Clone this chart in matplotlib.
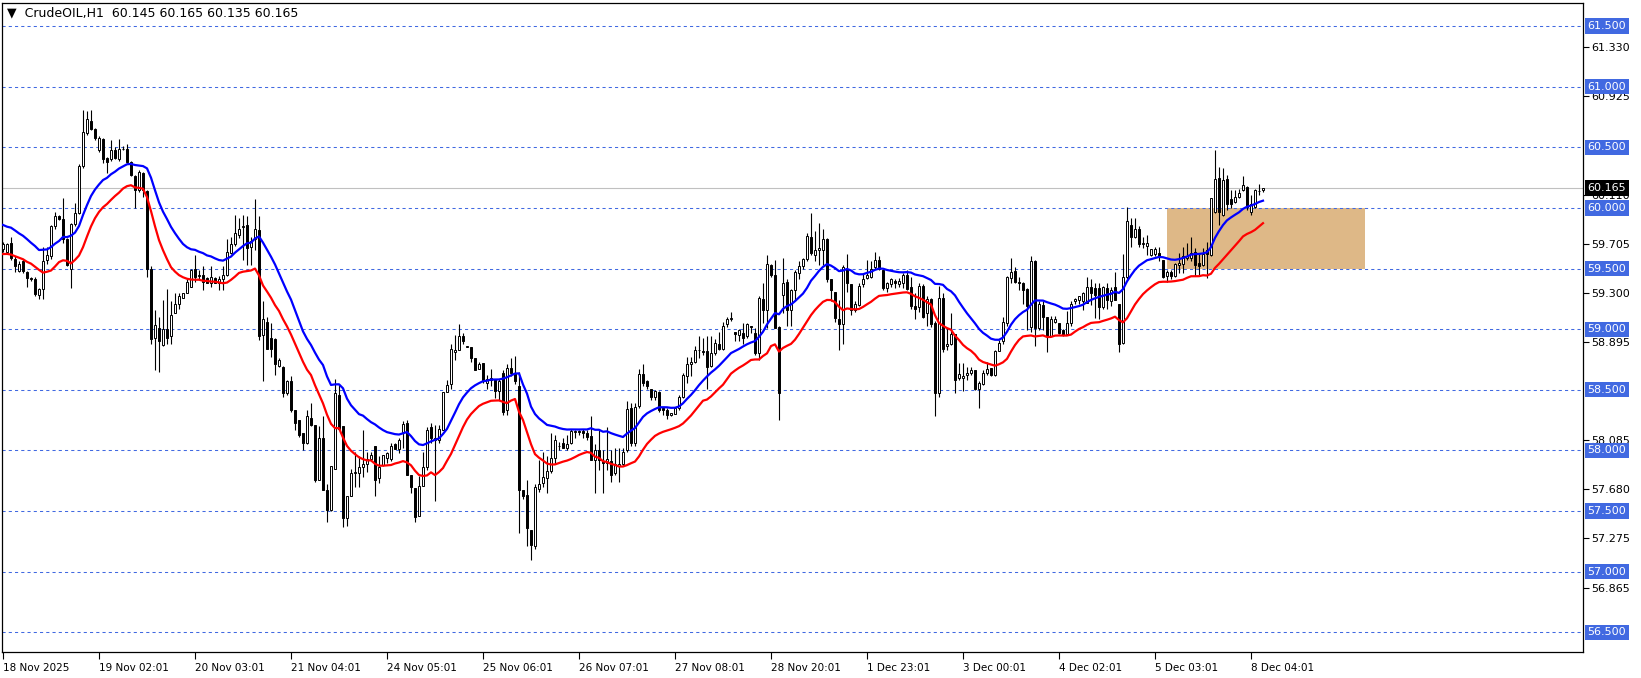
import matplotlib
matplotlib.use("Agg")
import matplotlib.pyplot as plt
from matplotlib.patches import Rectangle

# CrudeOIL H1 candles (bar 0 = 18 Nov 2025)
opens = [
    59.66, 59.64, 59.71, 59.58, 59.48, 59.56, 59.47, 59.42, 59.41, 59.28,
    59.33, 59.57, 59.60, 59.85, 59.93, 59.91, 59.74, 59.50, 59.87, 59.96,
    60.35, 60.62, 60.72, 60.65, 60.48, 60.57, 60.41, 60.40, 60.48, 60.40,
    60.49, 60.49, 60.38, 60.26, 60.15, 60.29, 60.14, 59.50, 58.925, 59.01,
    58.87, 59.00, 58.94, 59.13, 59.21, 59.26, 59.30, 59.35, 59.50, 59.44,
    59.45, 59.42, 59.38, 59.42, 59.38, 59.41, 59.45, 59.63, 59.70, 59.78,
    59.84, 59.86, 59.68, 59.74, 59.82, 58.95, 59.06, 58.93, 58.92, 58.70,
    58.69, 58.47, 58.57, 58.33, 58.25, 58.14, 58.06, 58.27, 58.21, 57.76,
    58.10, 57.67, 57.51, 57.85, 58.46, 58.20, 57.44, 57.62, 57.81, 57.81,
    57.86, 57.89, 57.93, 58.04, 57.77, 57.88, 57.94, 57.93, 58.05, 58.01,
    58.15, 58.23, 57.80, 57.69, 57.46, 57.71, 57.86, 58.19, 58.10, 58.09,
    58.17, 58.48, 58.55, 58.81, 58.83, 58.94, 58.85, 58.85, 58.76, 58.67,
    58.72, 58.56, 58.58, 58.59, 58.49, 58.64, 58.33, 58.68, 58.64, 58.53,
    57.67, 57.63, 57.34, 57.21, 57.68, 57.73, 57.77, 57.83, 57.94, 58.04,
    58.06, 58.02, 58.06, 58.15, 58.16, 58.16, 58.14, 58.12, 57.92, 58.00,
    57.91, 57.90, 57.91, 57.81, 57.87, 57.89, 58.00, 58.35, 58.06, 58.37,
    58.63, 58.57, 58.51, 58.44, 58.48, 58.35, 58.33, 58.29, 58.30, 58.35,
    58.44, 58.61, 58.71, 58.73, 58.83, 58.82, 58.82, 58.70, 58.80, 58.88,
    58.84, 59.04, 59.08, 58.98, 58.95, 58.97, 58.94, 59.03, 58.97, 58.80,
    59.25, 59.16, 59.53, 59.45, 59.02, 59.28, 59.39, 59.16, 59.32, 59.46,
    59.52, 59.58, 59.76, 59.61, 59.65, 59.65, 59.74, 59.41, 59.31, 59.08,
    59.04, 59.50, 59.37, 59.16, 59.20, 59.37, 59.42, 59.43, 59.51, 59.57,
    59.49, 59.34, 59.37, 59.40, 59.37, 59.38, 59.45, 59.35, 59.19, 59.18,
    59.36, 59.13, 59.25, 59.05, 58.47, 59.26, 58.86, 58.88, 58.96, 58.60,
    58.60, 58.62, 58.64, 58.66, 58.51, 58.55, 58.64, 58.68, 58.62, 58.82,
    58.90, 59.05, 59.42, 59.48, 59.39, 59.38, 59.33, 59.02, 59.56, 59.01,
    59.20, 59.10, 58.94, 59.06, 59.05, 58.99, 58.96, 59.05, 59.23, 59.24,
    59.23, 59.22, 59.35, 59.34, 59.34, 59.18, 59.34, 59.23, 59.35, 59.21,
    58.89, 59.43, 59.86, 59.76, 59.83, 59.70, 59.69, 59.61, 59.62, 59.63,
    59.57, 59.44, 59.47, 59.44, 59.53, 59.54, 59.59, 59.59, 59.64, 59.55,
    59.53, 59.65, 59.61, 59.97, 60.25, 59.94, 60.24, 60.07, 60.05, 60.09,
    60.15, 60.17, 59.97, 60.01, 60.14, 60.145,
]
highs = [
    59.72, 59.71, 59.76, 59.60, 59.56, 59.58, 59.48, 59.43, 59.43, 59.34,
    59.68, 59.68, 59.86, 59.97, 59.94, 60.08, 59.75, 59.88, 60.04, 60.36,
    60.81, 60.80, 60.81, 60.66, 60.59, 60.58, 60.42, 60.56, 60.50, 60.57,
    60.51, 60.53, 60.39, 60.27, 60.31, 60.30, 60.15, 59.52, 59.16, 59.10,
    59.24, 59.33, 59.23, 59.30, 59.30, 59.30, 59.42, 59.50, 59.61, 59.49,
    59.52, 59.43, 59.52, 59.43, 59.44, 59.52, 59.74, 59.76, 59.94, 59.92,
    59.94, 59.93, 59.76, 60.07, 59.93, 59.23, 59.10, 59.05, 58.93, 58.76,
    58.70, 58.58, 58.61, 58.33, 58.25, 58.14, 58.33, 58.39, 58.21, 58.20,
    58.28, 57.72, 57.87, 58.59, 58.55, 58.20, 57.62, 57.85, 57.99, 57.95,
    58.17, 57.99, 57.99, 58.04, 57.95, 57.96, 57.99, 58.06, 58.06, 58.10,
    58.24, 58.25, 57.80, 57.69, 57.79, 57.99, 58.19, 58.23, 58.21, 58.21,
    58.48, 58.58, 58.88, 58.95, 59.04, 58.97, 58.86, 58.85, 58.76, 58.73,
    58.72, 58.62, 58.67, 58.59, 58.59, 58.66, 58.71, 58.76, 58.78, 58.65,
    57.67, 57.76, 57.34, 57.72, 57.92, 57.99, 57.95, 58.14, 58.13, 58.07,
    58.10, 58.13, 58.18, 58.17, 58.17, 58.18, 58.17, 58.28, 58.05, 58.17,
    58.00, 58.19, 58.00, 58.02, 58.02, 58.02, 58.41, 58.39, 58.39, 58.67,
    58.71, 58.58, 58.51, 58.50, 58.49, 58.36, 58.35, 58.31, 58.36, 58.46,
    58.64, 58.77, 58.77, 58.86, 58.94, 58.93, 58.94, 58.94, 58.92, 58.98,
    59.06, 59.10, 59.14, 58.98, 59.00, 59.05, 59.05, 59.03, 59.01, 59.27,
    59.38, 59.61, 59.54, 59.57, 59.03, 59.59, 59.41, 59.33, 59.49, 59.56,
    59.59, 59.79, 59.96, 59.81, 59.88, 59.83, 59.75, 59.41, 59.31, 59.24,
    59.53, 59.62, 59.37, 59.23, 59.38, 59.46, 59.57, 59.56, 59.64, 59.60,
    59.49, 59.39, 59.42, 59.41, 59.42, 59.46, 59.49, 59.43, 59.30, 59.38,
    59.37, 59.27, 59.26, 59.07, 59.36, 59.30, 59.01, 59.13, 58.96, 58.72,
    58.72, 58.69, 58.69, 58.66, 58.57, 58.66, 58.73, 58.68, 58.83, 58.91,
    59.10, 59.44, 59.59, 59.51, 59.43, 59.39, 59.34, 59.60, 59.57, 59.23,
    59.23, 59.10, 59.11, 59.11, 59.05, 59.00, 59.15, 59.23, 59.26, 59.27,
    59.31, 59.43, 59.41, 59.38, 59.38, 59.36, 59.38, 59.35, 59.47, 59.21,
    59.62, 60.01, 59.92, 59.92, 59.85, 59.76, 59.78, 59.66, 59.68, 59.68,
    59.57, 59.49, 59.49, 59.55, 59.63, 59.68, 59.71, 59.76, 59.67, 59.63,
    59.67, 59.72, 60.08, 60.48, 60.34, 60.33, 60.27, 60.15, 60.15, 60.16,
    60.26, 60.18, 60.11, 60.16, 60.20, 60.165,
]
lows = [
    59.64, 59.63, 59.57, 59.47, 59.47, 59.46, 59.35, 59.40, 59.27, 59.25,
    59.25, 59.54, 59.58, 59.83, 59.90, 59.71, 59.52, 59.34, 59.85, 59.95,
    60.33, 60.60, 60.64, 60.56, 60.46, 60.37, 60.29, 60.39, 60.40, 60.39,
    60.48, 60.37, 60.26, 60.00, 60.13, 60.09, 59.43, 58.88, 58.66, 58.65,
    58.86, 58.88, 58.88, 59.13, 59.17, 59.26, 59.30, 59.35, 59.39, 59.41,
    59.32, 59.38, 59.35, 59.38, 59.32, 59.32, 59.44, 59.62, 59.69, 59.75,
    59.57, 59.53, 59.53, 59.65, 58.91, 58.57, 58.84, 58.77, 58.62, 58.69,
    58.44, 58.46, 58.32, 58.17, 58.11, 58.00, 58.05, 58.20, 57.74, 57.76,
    57.67, 57.41, 57.50, 57.85, 58.18, 57.37, 57.38, 57.62, 57.70, 57.70,
    57.78, 57.82, 57.92, 57.62, 57.73, 57.87, 57.90, 57.91, 58.01, 57.98,
    58.02, 57.80, 57.65, 57.41, 57.46, 57.71, 57.84, 58.06, 57.58, 58.06,
    58.17, 58.48, 58.51, 58.75, 58.83, 58.88, 58.85, 58.73, 58.66, 58.67,
    58.56, 58.51, 58.53, 58.43, 58.42, 58.29, 58.29, 58.61, 58.55, 57.32,
    57.60, 57.21, 57.10, 57.19, 57.66, 57.70, 57.65, 57.81, 57.89, 58.00,
    58.02, 58.00, 58.05, 58.10, 58.13, 58.10, 58.09, 57.92, 57.65, 57.84,
    57.65, 57.84, 57.74, 57.80, 57.74, 57.87, 57.99, 58.04, 58.04, 58.35,
    58.53, 58.51, 58.42, 58.42, 58.32, 58.29, 58.26, 58.28, 58.30, 58.33,
    58.43, 58.56, 58.61, 58.72, 58.76, 58.79, 58.51, 58.69, 58.79, 58.83,
    58.83, 59.02, 59.07, 58.90, 58.90, 58.88, 58.93, 58.97, 58.79, 58.75,
    59.05, 59.01, 59.43, 59.01, 58.25, 59.13, 59.03, 59.03, 59.24, 59.41,
    59.50, 59.56, 59.61, 59.56, 59.53, 59.53, 59.39, 59.23, 59.06, 58.83,
    58.88, 59.31, 59.12, 59.14, 59.19, 59.35, 59.41, 59.42, 59.50, 59.49,
    59.32, 59.31, 59.35, 59.34, 59.35, 59.34, 59.32, 59.17, 59.08, 59.14,
    59.09, 59.03, 59.02, 58.28, 58.44, 58.81, 58.83, 58.87, 58.47, 58.58,
    58.49, 58.58, 58.62, 58.50, 58.35, 58.54, 58.62, 58.61, 58.61, 58.82,
    58.88, 59.03, 59.38, 59.38, 59.32, 59.21, 58.99, 58.98, 58.86, 58.99,
    58.99, 58.81, 58.94, 59.05, 58.96, 58.94, 58.95, 59.03, 59.21, 59.21,
    59.16, 59.22, 59.20, 59.09, 59.08, 59.17, 59.17, 59.19, 59.24, 58.81,
    58.88, 59.41, 59.68, 59.75, 59.68, 59.67, 59.61, 59.60, 59.60, 59.56,
    59.42, 59.39, 59.41, 59.43, 59.46, 59.46, 59.57, 59.56, 59.44, 59.44,
    59.52, 59.42, 59.60, 59.96, 59.86, 59.93, 59.98, 60.00, 60.04, 60.08,
    60.14, 59.98, 59.94, 60.00, 60.11, 60.135,
]
closes = [
    59.70, 59.70, 59.59, 59.52, 59.54, 59.48, 59.42, 59.41, 59.29, 59.33,
    59.56, 59.61, 59.85, 59.93, 59.91, 59.74, 59.53, 59.87, 59.96, 60.35,
    60.63, 60.73, 60.65, 60.58, 60.58, 60.40, 60.38, 60.48, 60.41, 60.49,
    60.49, 60.38, 60.27, 60.15, 60.30, 60.15, 59.50, 58.92, 59.035, 58.90,
    59.00, 58.93, 59.12, 59.21, 59.27, 59.30, 59.39, 59.49, 59.43, 59.45,
    59.39, 59.38, 59.43, 59.38, 59.41, 59.45, 59.64, 59.70, 59.79, 59.83,
    59.85, 59.67, 59.73, 59.83, 58.94, 59.08, 58.84, 58.84, 58.71, 58.75,
    58.47, 58.57, 58.33, 58.23, 58.13, 58.06, 58.28, 58.21, 57.76, 58.10,
    57.67, 57.51, 57.87, 58.47, 58.18, 57.44, 57.62, 57.81, 57.82, 57.86,
    57.89, 57.93, 57.96, 57.76, 57.86, 57.96, 57.98, 58.04, 58.01, 58.09,
    58.22, 57.80, 57.70, 57.45, 57.71, 57.86, 58.17, 58.10, 58.09, 58.18,
    58.48, 58.54, 58.84, 58.83, 58.94, 58.90, 58.86, 58.76, 58.66, 58.71,
    58.57, 58.59, 58.60, 58.49, 58.57, 58.32, 58.68, 58.64, 58.57, 57.67,
    57.62, 57.36, 57.22, 57.70, 57.72, 57.78, 57.83, 57.94, 58.09, 58.04,
    58.02, 58.05, 58.16, 58.16, 58.15, 58.14, 58.11, 57.92, 58.00, 57.92,
    57.90, 57.93, 57.80, 57.89, 57.89, 57.99, 58.34, 58.06, 58.36, 58.63,
    58.56, 58.53, 58.44, 58.49, 58.33, 58.33, 58.29, 58.31, 58.35, 58.44,
    58.62, 58.71, 58.73, 58.83, 58.83, 58.81, 58.69, 58.80, 58.89, 58.84,
    59.03, 59.08, 59.09, 58.96, 58.99, 58.93, 59.04, 59.02, 58.80, 59.26,
    59.16, 59.54, 59.45, 59.01, 58.47, 59.38, 59.16, 59.32, 59.47, 59.52,
    59.58, 59.77, 59.63, 59.65, 59.67, 59.74, 59.41, 59.32, 59.09, 59.04,
    59.51, 59.38, 59.16, 59.21, 59.36, 59.41, 59.45, 59.50, 59.57, 59.50,
    59.34, 59.38, 59.41, 59.38, 59.40, 59.45, 59.33, 59.19, 59.17, 59.36,
    59.10, 59.25, 59.04, 58.47, 59.26, 58.84, 58.88, 58.96, 58.58, 58.63,
    58.61, 58.64, 58.66, 58.51, 58.56, 58.64, 58.67, 58.62, 58.82, 58.89,
    59.06, 59.43, 59.47, 59.39, 59.38, 59.32, 59.19, 59.56, 59.01, 59.21,
    59.10, 58.94, 59.08, 59.08, 58.97, 58.95, 59.05, 59.21, 59.25, 59.27,
    59.30, 59.35, 59.30, 59.28, 59.18, 59.35, 59.24, 59.32, 59.24, 58.88,
    59.43, 59.89, 59.76, 59.83, 59.70, 59.71, 59.71, 59.66, 59.66, 59.60,
    59.43, 59.47, 59.44, 59.54, 59.55, 59.60, 59.60, 59.63, 59.53, 59.52,
    59.62, 59.62, 60.08, 60.24, 59.97, 60.23, 60.03, 60.03, 60.09, 60.12,
    60.19, 60.01, 60.03, 60.15, 60.14, 60.165,
]

# moving averages (period 20 on high / low), values where the lines enter the chart
ma_period = 20
ma_high_start = 59.86
ma_low_start = 59.62

level_prices = [61.5, 61.0, 60.5, 60.0, 59.5, 59.0, 58.5, 58.0, 57.5, 57.0, 56.5]
scale_prices = [61.330, 60.925, 60.110, 59.705, 59.300, 58.895,
                58.085, 57.680, 57.275, 56.865]
last_price = 60.165
zone_low, zone_high = 59.5, 60.0
zone_start_bar, zone_end_bar = 290.9, 340.6

date_labels = ["18 Nov 2025", "19 Nov 02:01", "20 Nov 03:01", "21 Nov 04:01",
               "24 Nov 05:01", "25 Nov 06:01", "26 Nov 07:01", "27 Nov 08:01",
               "28 Nov 20:01", "1 Dec 23:01", "3 Dec 00:01", "4 Dec 02:01",
               "5 Dec 03:01", "8 Dec 04:01"]
bars_per_label = 24


def ema(values, start):
    alpha = 2.0 / (ma_period + 1)
    out = [start]
    for v in values[1:]:
        out.append(out[-1] + alpha * (v - out[-1]))
    return out


ma_high = ema(highs, ma_high_start)
ma_low = ema(lows, ma_low_start)

W, H = 1641, 678
fig = plt.figure(figsize=(W / 100, H / 100), dpi=100)
fig.patch.set_facecolor("white")
ax = fig.add_axes([2 / W, (H - 652) / H, (1583 - 2) / W, (652 - 3) / H])
ax.set_xlim(-0.25, 395)
ax.set_ylim(56.337, 61.691)

blue = "#4169E1"
for p in level_prices:
    ax.axhline(p, color=blue, lw=0.75, ls=(0, (3, 3)), zorder=1)
ax.axhline(last_price, color="#C0C0C0", lw=0.8, zorder=1)

ax.add_patch(Rectangle((zone_start_bar, zone_low), zone_end_bar - zone_start_bar,
                       zone_high - zone_low, fc="#DEB887", ec="none", zorder=0.5))

xs = list(range(len(closes)))
ax.vlines(xs, lows, highs, color="black", lw=0.8, zorder=2)
for x, o, c in zip(xs, opens, closes):
    bull = c >= o
    ax.bar(x, abs(c - o), bottom=min(o, c), width=0.5,
           color="white" if bull else "black", edgecolor="black",
           linewidth=0.7, zorder=3)

ax.plot(xs, ma_high, color="#0000FF", lw=1.6, zorder=4)
ax.plot(xs, ma_low, color="#FF0000", lw=1.6, zorder=4)

for side in ["left", "right", "top", "bottom"]:
    ax.spines[side].set_color("black")
    ax.spines[side].set_linewidth(0.9)

# price scale on the right
ax.yaxis.tick_right()
ax.set_yticks(scale_prices)
ax.set_yticklabels([f"{p:.3f}" for p in scale_prices], fontsize=8)
ax.tick_params(axis="y", length=4, width=0.8, pad=2, color="black")
ytr = ax.get_yaxis_transform()
for p in level_prices:
    ax.text(1.0028, p, f"{p:.3f}", transform=ytr, ha="left", va="center",
            fontsize=8, color="white", zorder=6,
            bbox=dict(boxstyle="square,pad=0.24", fc=blue, ec="none"))
ax.text(1.0028, last_price, f"{last_price:.3f}", transform=ytr, ha="left",
        va="center", fontsize=8, color="white", zorder=7,
        bbox=dict(boxstyle="square,pad=0.24", fc="black", ec="none"))

# time scale
ax.set_xticks([i * bars_per_label for i in range(len(date_labels))])
ax.set_xticklabels(date_labels, fontsize=7.5, ha="left")
ax.tick_params(axis="x", length=5, width=0.8, pad=3, color="black")

ax.text(5 / 1581, 1 - 10 / 649,
        "\u25BC  CrudeOIL,H1  60.145 60.165 60.135 60.165",
        transform=ax.transAxes, ha="left", va="center", fontsize=9,
        color="black")

fig.savefig("out.png", dpi=100)
